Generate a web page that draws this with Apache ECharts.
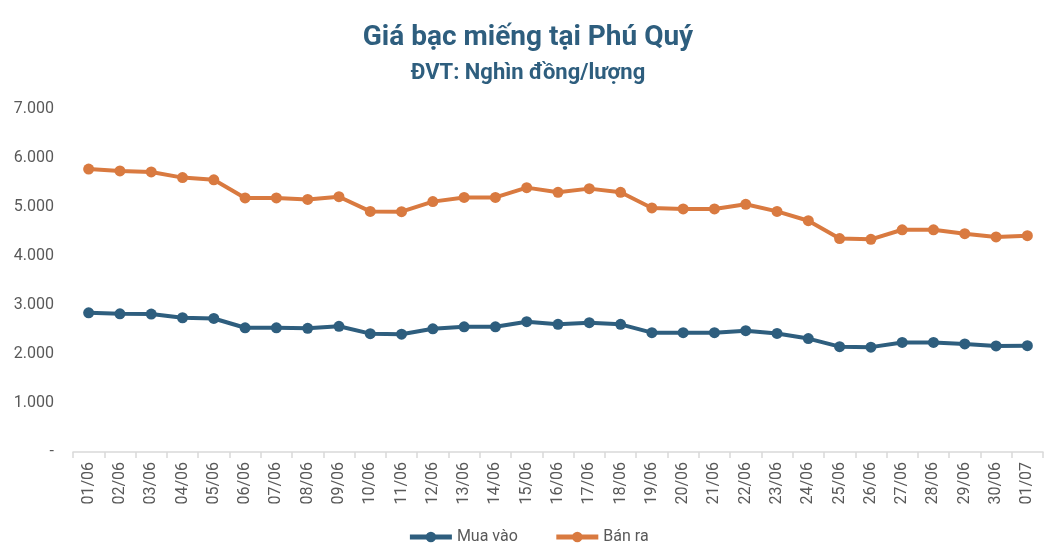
<!DOCTYPE html>
<html><head><meta charset="utf-8">
<script src="https://cdn.jsdelivr.net/npm/echarts@6/dist/echarts.min.js"></script>
<style>html,body{margin:0;padding:0;background:#fff}#c{width:1056px;height:558px}</style>
</head><body><div id="c"></div>
<script>
const categories = ["01/06","02/06","03/06","04/06","05/06","06/06","07/06","08/06","09/06","10/06","11/06","12/06","13/06","14/06","15/06","16/06","17/06","18/06","19/06","20/06","21/06","22/06","23/06","24/06","25/06","26/06","27/06","28/06","29/06","30/06","01/07"];
const muaVao = [2840,2820,2815,2740,2725,2535,2535,2525,2565,2415,2405,2515,2555,2555,2660,2605,2640,2605,2435,2435,2435,2475,2420,2315,2150,2140,2235,2235,2205,2165,2170];
const banRa = [5775,5735,5715,5600,5555,5185,5185,5155,5210,4910,4905,5110,5195,5195,5395,5300,5375,5300,4980,4960,4960,5055,4910,4720,4355,4340,4535,4535,4455,4390,4415];
const yTicks = [0,1000,2000,3000,4000,5000,6000,7000];
const fmt = v => v === 0 ? '-' : String(v).replace(/\B(?=(\d{3})+(?!\d))/g, '.');
const chart = echarts.init(document.getElementById('c'));
chart.setOption({
  backgroundColor:'#fff',
  title:[
    {text:'Giá bạc miếng tại Phú Quý', left:'center', top:19, textStyle:{fontFamily:'Roboto', fontSize:28, fontWeight:'bold', color:'#2E5E7E'}},
    {text:'ĐVT: Nghìn đồng/lượng', left:'center', top:57, textStyle:{fontFamily:'Roboto', fontSize:22, fontWeight:'bold', color:'#2E5E7E'}}
  ],
  legend:{bottom:8, left:'center', itemWidth:42, itemHeight:13, itemGap:36,
    lineStyle:{width:5}, itemStyle:{borderWidth:0},
    textStyle:{fontFamily:'Roboto', fontSize:16, color:'#595959'},
    data:['Mua vào','Bán ra']},
  grid:{left:73, right:13, top:109, bottom:106, containLabel:false},
  xAxis:{type:'category', data:categories, boundaryGap:true,
    axisLine:{lineStyle:{color:'#d9d9d9', width:1.5}},
    axisTick:{show:true, alignWithLabel:false, length:6, lineStyle:{color:'#d9d9d9', width:1.5}},
    axisLabel:{rotate:90, interval:0, fontFamily:'Roboto', fontSize:16, color:'#595959', margin:10}},
  yAxis:{type:'value', min:0, max:7000, interval:1000,
    axisLine:{show:false}, axisTick:{show:false}, splitLine:{show:false},
    axisLabel:{formatter:fmt, fontFamily:'Roboto', fontSize:16, color:'#595959', margin:19}},
  series:[
    {name:'Mua vào', type:'line', data:muaVao, symbol:'circle', symbolSize:11,
      lineStyle:{width:4, color:'#2E5E7E'}, itemStyle:{color:'#2E5E7E'}},
    {name:'Bán ra', type:'line', data:banRa, symbol:'circle', symbolSize:11,
      lineStyle:{width:4, color:'#D97A40'}, itemStyle:{color:'#D97A40'}}
  ]
});
</script></body></html>
